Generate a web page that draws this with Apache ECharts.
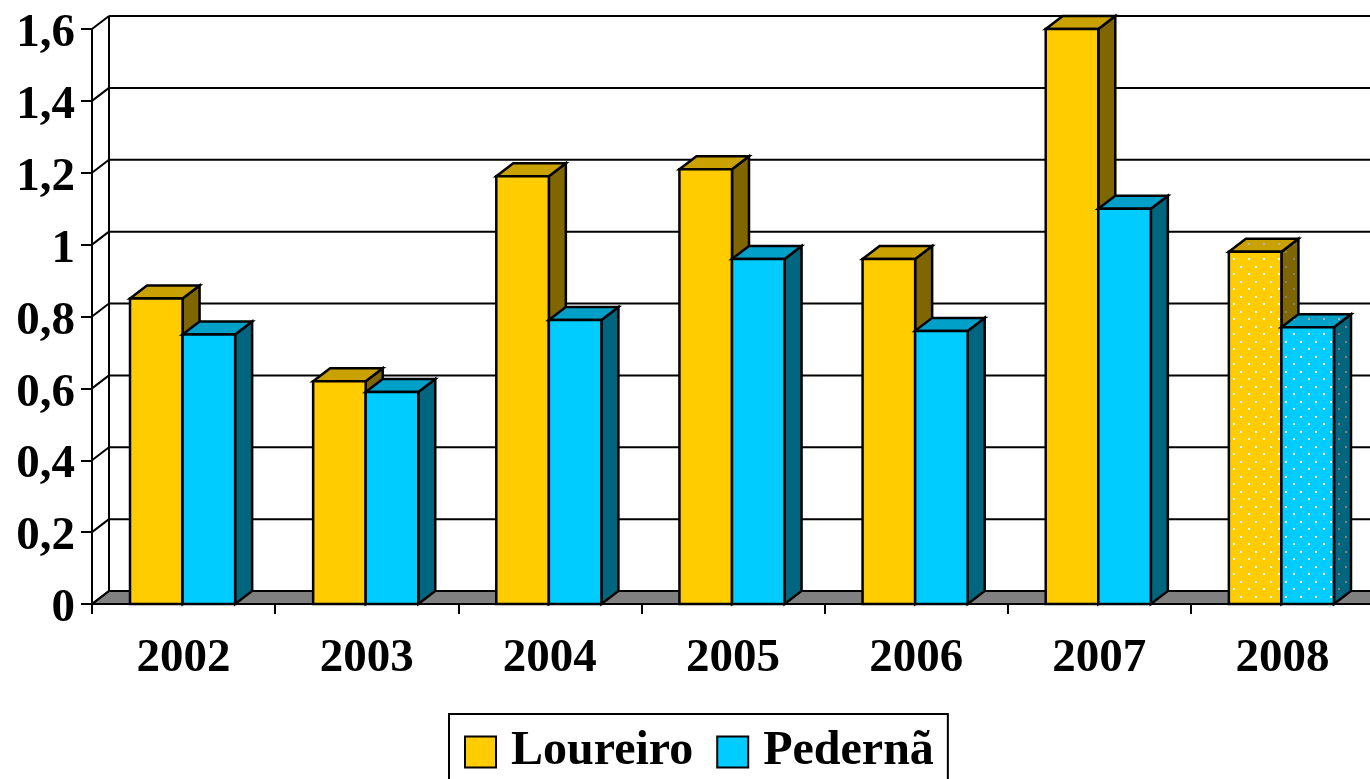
<!DOCTYPE html>
<html>
<head>
<meta charset="utf-8">
<title>Loureiro / Pedernã</title>
<style>
  html, body { margin: 0; padding: 0; background: #fff; overflow: hidden; width: 1370px; height: 779px; }
  /* the plot runs a few pixels past the right edge of the page */
  #chart { width: 1400px; height: 779px; }
</style>
<script src="https://cdn.jsdelivr.net/npm/echarts@6/dist/echarts.min.js"></script>
</head>
<body>
<div id="chart"></div>
<script>
const categories = ['2002', '2003', '2004', '2005', '2006', '2007', '2008']
const loureiro = [0.85, 0.62, 1.19, 1.21, 0.96, 1.6, 0.98]
const pederna = [0.75, 0.59, 0.79, 0.96, 0.76, 1.1, 0.77]
const yTicks = [0, 0.2, 0.4, 0.6, 0.8, 1, 1.2, 1.4, 1.6]
const dottedYears = ['2008']

// depth of the fake 3d box, in pixels
const DX = 17
const DY = -13
const FONT = 'Liberation Serif'

// small repeating tile for the dotted 2008 bars
function dotTile(base, dot) {
  const c = document.createElement('canvas')
  c.width = 15
  c.height = 15
  const ctx = c.getContext('2d')
  ctx.fillStyle = base
  ctx.fillRect(0, 0, 15, 15)
  ctx.fillStyle = dot
  ctx.fillRect(3, 3, 2, 2)
  ctx.fillRect(10, 11, 2, 2)
  return { image: c, repeat: 'repeat' }
}

const yellow = { front: '#FFCC00', top: '#C9A100', side: '#806600' }
const cyan = { front: '#00CCFF', top: '#00A0C8', side: '#006680' }

function faces(colors, dotted) {
  if (!dotted) return colors
  return {
    front: dotTile(colors.front, '#ffffff'),
    top: dotTile(colors.top, '#b0b0b0'),
    side: dotTile(colors.side, '#808080')
  }
}

// one renderItem per series, side = -1 left of the category centre, 0 right of it
function boxRenderer(colors, side) {
  return function (params, api) {
    const idx = api.value(0)
    const top = api.coord([idx, api.value(1)])
    const base = api.coord([idx, 0])
    const w = api.size([1, 0])[0] * 0.287
    const x0 = top[0] - 1 + side * w
    const x1 = x0 + w
    const y0 = top[1]
    const y1 = base[1]
    const f = faces(colors, dottedYears.indexOf(categories[idx]) >= 0)
    const line = { stroke: '#000', lineWidth: 2.5, lineJoin: 'miter' }
    return {
      type: 'group',
      children: [
        {
          type: 'polygon',
          shape: { points: [[x1, y0], [x1 + DX, y0 + DY], [x1 + DX, y1 + DY], [x1, y1]] },
          style: Object.assign({ fill: f.side }, line)
        },
        {
          type: 'polygon',
          shape: { points: [[x0, y0], [x0 + DX, y0 + DY], [x1 + DX, y0 + DY], [x1, y0]] },
          style: Object.assign({ fill: f.top }, line)
        },
        {
          type: 'rect',
          shape: { x: x0, y: y0, width: w, height: y1 - y0 },
          style: Object.assign({ fill: f.front }, line)
        }
      ]
    }
  }
}

// back wall gridlines, the little diagonals and the grey floor
function wallRenderer(params, api) {
  const value = api.value(0)
  const band = api.size([1, 0])[0]
  const first = api.coord([0, value])
  const last = api.coord([categories.length - 1, value])
  const left = [first[0] - band / 2, first[1]]
  const right = [last[0] + band / 2, last[1]]
  const line = { stroke: '#000', lineWidth: 2 }
  const children = [
    {
      type: 'line',
      shape: { x1: left[0], y1: left[1], x2: left[0] + DX, y2: left[1] + DY },
      style: line
    },
    {
      type: 'line',
      shape: { x1: left[0] + DX, y1: left[1] + DY, x2: right[0] + DX, y2: right[1] + DY },
      style: line
    }
  ]
  if (value === 0) {
    const topY = api.coord([0, yTicks[yTicks.length - 1]])[1]
    children.unshift({
      type: 'line',
      shape: { x1: left[0] + DX, y1: left[1] + DY, x2: left[0] + DX, y2: topY + DY },
      style: line
    })
    children.unshift({
      type: 'polygon',
      shape: {
        points: [
          [left[0], left[1]],
          [left[0] + DX, left[1] + DY],
          [right[0] + DX, right[1] + DY],
          [right[0], right[1]]
        ]
      },
      style: { fill: '#808080', stroke: '#000', lineWidth: 2 }
    })
  }
  return { type: 'group', children: children }
}

const labelStyle = {
  fontFamily: FONT,
  fontWeight: 'bold',
  fontSize: 47,
  color: '#000'
}
const axisLine = { show: true, lineStyle: { color: '#000', width: 2 } }

const chart = echarts.init(document.getElementById('chart'), null, { renderer: 'canvas' })
chart.setOption({
  animation: false,
  backgroundColor: '#fff',
  grid: { left: 92, top: 29, width: 1282, height: 575, containLabel: false },
  xAxis: {
    type: 'category',
    data: categories,
    axisLine: axisLine,
    axisTick: { show: true, length: 10, lineStyle: { color: '#000', width: 2 } },
    axisLabel: Object.assign({ margin: 31, interval: 0 }, labelStyle),
    splitLine: { show: false }
  },
  yAxis: {
    type: 'value',
    min: 0,
    max: 1.6,
    interval: 0.2,
    axisLine: axisLine,
    axisTick: { show: true, length: 11, lineStyle: { color: '#000', width: 2 } },
    axisLabel: Object.assign({
      margin: 17,
      // labels sit a little below their ticks in the original
      verticalAlign: 'top',
      lineHeight: 10,
      showMinLabel: true,
      showMaxLabel: true,
      hideOverlap: false,
      formatter: v => String(v).replace('.', ',')
    }, labelStyle),
    splitLine: { show: false }
  },
  legend: {
    left: 449,
    top: 714,
    data: ['Loureiro', 'Pedernã'],
    selectedMode: false,
    icon: 'rect',
    itemWidth: 31,
    itemHeight: 31,
    itemGap: 23,
    padding: [14, 14, 13, 15],
    borderColor: '#000',
    borderWidth: 2,
    backgroundColor: '#fff',
    textStyle: Object.assign({}, labelStyle, { fontSize: 48, padding: [6, 0, 0, 10] })
  },
  series: [
    {
      name: 'wall',
      type: 'custom',
      coordinateSystem: 'cartesian2d',
      encode: { y: 0 },
      z: 1,
      silent: true,
      renderItem: wallRenderer,
      data: yTicks.map(v => [v])
    },
    {
      name: 'Loureiro',
      type: 'custom',
      coordinateSystem: 'cartesian2d',
      encode: { x: 0, y: 1 },
      z: 3,
      itemStyle: { color: yellow.front, borderColor: '#000', borderWidth: 2 },
      renderItem: boxRenderer(yellow, -1),
      data: loureiro.map((v, i) => [i, v])
    },
    {
      name: 'Pedernã',
      type: 'custom',
      coordinateSystem: 'cartesian2d',
      encode: { x: 0, y: 1 },
      z: 4,
      itemStyle: { color: cyan.front, borderColor: '#000', borderWidth: 2 },
      renderItem: boxRenderer(cyan, 0),
      data: pederna.map((v, i) => [i, v])
    }
  ]
})
</script>
</body>
</html>
